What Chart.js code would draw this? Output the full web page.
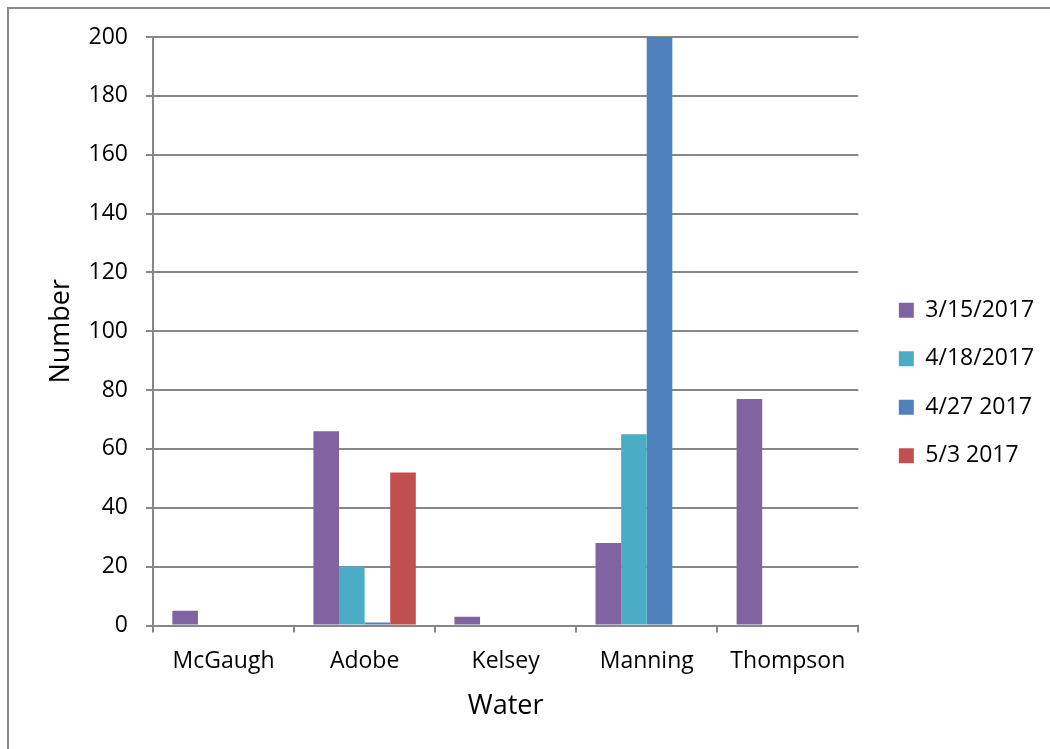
<!DOCTYPE html>
<html>
<head>
<meta charset="utf-8">
<script src="https://cdn.jsdelivr.net/npm/chart.js@4/dist/chart.umd.min.js"></script>
<style>
  html, body { margin: 0; padding: 0; background: #fff; }
  #wrap { position: relative; width: 1050px; height: 749px; }
</style>
</head>
<body>
<div id="wrap"><canvas id="c" width="1050" height="749"></canvas></div>
<script>
// Sampling sites along the x axis
const sites = ['McGaugh', 'Adobe', 'Kelsey', 'Manning', 'Thompson'];

// Counts per survey date
const mar15 = [5, 66, 3, 28, 77];
const apr18 = [0, 20, 0, 65, 0];
const apr27 = [0, 1, 0, 200, 0];
const may3  = [0, 52, 0, 0, 0];

const seriesLabels = ['3/15/2017', '4/18/2017', '4/27 2017', '5/3 2017'];
const seriesColors = ['#8064A2', '#4BACC6', '#4F81BD', '#C0504D'];

const yTicks = { min: 0, max: 200, step: 20 };

const FONT = '"Open Sans", "DejaVu Sans", sans-serif';
const GRID = '#878787';

const PAD = { top: 37, right: 6, bottom: 20, left: 20 };
const PLOT = { left: 153, bottom: 625.5 };

// White page with the frame along the top and left edges
const frame = {
  id: 'frame',
  beforeDraw(chart) {
    const ctx = chart.ctx;
    ctx.save();
    ctx.fillStyle = '#fff';
    ctx.fillRect(0, 0, chart.width, chart.height);
    ctx.strokeStyle = '#8a8a8a';
    ctx.lineWidth = 2;
    ctx.beginPath();
    ctx.moveTo(8, chart.height);
    ctx.lineTo(8, 8);
    ctx.lineTo(chart.width, 8);
    ctx.stroke();
    ctx.restore();
  }
};

const datasets = [mar15, apr18, apr27, may3].map((vals, i) => ({
  label: seriesLabels[i],
  data: vals,
  backgroundColor: seriesColors[i],
  borderWidth: 0,
  categoryPercentage: 0.726,
  barPercentage: 1.0
}));

new Chart(document.getElementById('c'), {
  type: 'bar',
  data: { labels: sites, datasets },
  plugins: [frame],
  options: {
    responsive: false,
    animation: false,
    devicePixelRatio: 1,
    layout: { padding: PAD },
    plugins: {
      tooltip: { enabled: false },
      legend: {
        position: 'right',
        labels: {
          color: '#000',
          font: { family: FONT, size: 23 },
          boxWidth: 15,
          boxHeight: 15,
          padding: 25.5
        }
      }
    },
    scales: {
      x: {
        grid: { display: true, drawOnChartArea: false, drawTicks: true, tickLength: 7, color: GRID, lineWidth: 2, offset: true },
        border: { display: true, color: GRID, width: 2 },
        ticks: { color: '#000', font: { family: FONT, size: 23 }, padding: 15, maxRotation: 0 },
        title: { display: true, text: 'Water', color: '#000', font: { family: FONT, size: 27 }, padding: { top: 4, bottom: 6.5 } },
        afterFit(scale) { scale.height = 749 - PLOT.bottom - PAD.bottom; }
      },
      y: {
        min: yTicks.min,
        max: yTicks.max,
        ticks: { stepSize: yTicks.step, color: '#000', font: { family: FONT, size: 23 }, padding: 18 },
        grid: { color: GRID, lineWidth: 2, tickLength: 7 },
        border: { display: true, color: GRID, width: 2 },
        title: { display: true, text: 'Number', color: '#000', font: { family: FONT, size: 27 }, padding: { top: 25, bottom: 0 } },
        afterFit(scale) { scale.width = PLOT.left - PAD.left; }
      },
      // empty spacer between the plot and the legend
      gap: {
        type: 'linear',
        position: 'right',
        display: true,
        grid: { display: false, drawTicks: false },
        ticks: { display: false },
        border: { display: false },
        afterFit(scale) { scale.width = 15; }
      }
    }
  }
});
</script>
</body>
</html>
